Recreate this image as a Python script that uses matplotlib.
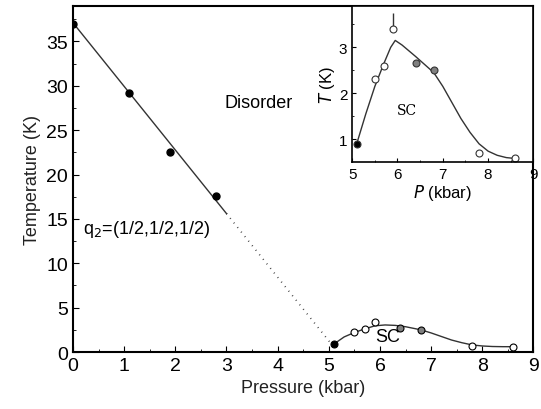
import numpy as np
import matplotlib.pyplot as plt

plt.rcParams['font.family'] = ['Liberation Sans', 'DejaVu Sans']

# ordered phase: transition temperature vs pressure
p_order = [0.0, 1.1, 1.9, 2.8]
t_order = [37.0, 29.2, 22.5, 17.6]
# linear fit ends and dotted extrapolation
fit_p = [0.0, 3.0]
fit_t = [37.1, 15.6]
dot_p = [3.0, 5.05]
dot_t = [15.6, 0.9]

# superconducting points
p_sc = [5.1, 5.5, 5.7, 5.9, 6.4, 6.8, 7.8, 8.6]
t_sc = [0.9, 2.3, 2.6, 3.4, 2.65, 2.5, 0.7, 0.6]
sc_face = ['k', 'w', 'w', 'w', '0.5', '0.5', 'w', 'w']

# guide-to-the-eye curves
curve_main_p = [5.1, 5.3, 5.5, 5.7, 5.9, 6.1, 6.3, 6.5, 6.8, 7.0, 7.2, 7.4, 7.6, 7.8, 8.0, 8.2, 8.4, 8.6]
curve_main_t = [0.9, 1.7, 2.2, 2.6, 2.95, 3.05, 3.0, 2.85, 2.5, 2.15, 1.75, 1.35, 1.05, 0.8, 0.68, 0.62, 0.6, 0.6]
curve_in_p = [5.1, 5.3, 5.5, 5.7, 5.85, 5.95, 6.1, 6.4, 6.8, 7.0, 7.2, 7.4, 7.6, 7.8, 8.0, 8.2, 8.4, 8.6]
curve_in_t = [0.9, 1.55, 2.15, 2.65, 3.0, 3.15, 3.05, 2.8, 2.45, 2.15, 1.8, 1.45, 1.15, 0.9, 0.74, 0.65, 0.6, 0.58]

fig = plt.figure(figsize=(5.41, 4.10), dpi=100)
ax = fig.add_axes([0.135, 0.139, 0.851, 0.844])

ax.plot(fit_p, fit_t, color='#333333', lw=1.0)
ax.plot(dot_p, dot_t, color='#333333', lw=1.2, ls=(0, (0.5, 3)))
ax.plot(p_order, t_order, 'o', color='k', ms=5)
ax.plot(curve_main_p, curve_main_t, color='#333333', lw=1.0)
for p, t, f in zip(p_sc, t_sc, sc_face):
    ax.plot(p, t, 'o', mfc=f, mec='k', ms=5, mew=0.8)

ax.set_xlim(0, 9)
ax.set_ylim(0, 39)
ax.set_xticks(range(0, 10))
ax.set_yticks(range(0, 40, 5))
ax.set_xticks(np.arange(0.5, 9, 1), minor=True)
ax.set_yticks(np.arange(2.5, 39, 5), minor=True)
ax.tick_params(direction='in', which='both', labelsize=14, length=4)
ax.tick_params(which='minor', length=2)
ax.set_xlabel('Pressure (kbar)', fontsize=13, color='#222222')
ax.set_ylabel('Temperature (K)', fontsize=13, color='#222222')
for s in ax.spines.values():
    s.set_linewidth(1.5)

ax.text(2.97, 27.6, 'Disorder', fontsize=13)
ax.text(0.2, 13.4, r'q$_2$=(1/2,1/2,1/2)', fontsize=13)
ax.text(6.15, 1.2, 'SC', fontsize=13, ha='center')

# inset
ins = fig.add_axes([0.651, 0.602, 0.335, 0.381])
ins.plot(curve_in_p, curve_in_t, color='#333333', lw=1.0)
ins.errorbar([5.9], [3.4], yerr=[[0.0], [0.35]], fmt='none', ecolor='#333333', elinewidth=1.0)
for p, t, f in zip(p_sc, t_sc, sc_face):
    ins.plot(p, t, 'o', mfc=f, mec='#333333', ms=5, mew=0.8)
ins.set_xlim(5, 9)
ins.set_ylim(0.5, 3.9)
ins.set_xticks([5, 6, 7, 8, 9])
ins.set_yticks([1, 2, 3])
ins.set_xticks(np.arange(5.5, 9, 1), minor=True)
ins.set_yticks([1.5, 2.5, 3.5], minor=True)
ins.tick_params(direction='in', which='both', labelsize=11, length=3)
ins.tick_params(which='minor', length=1.5)
ins.set_xlabel(r'$P$ (kbar)', fontsize=12, labelpad=1)
ins.set_ylabel(r'$T$ (K)', fontsize=12, labelpad=1)
for s in ins.spines.values():
    s.set_linewidth(1.2)
ins.text(6.2, 1.55, 'SC', fontsize=10, family='DejaVu Serif', ha='center')

fig.savefig('out.png', dpi=100)
